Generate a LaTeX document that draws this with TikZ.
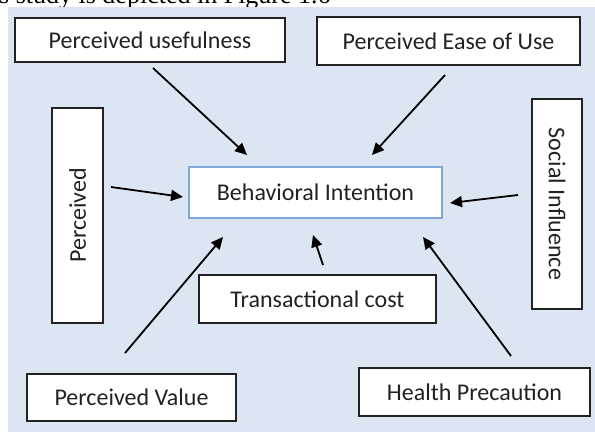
\documentclass[tikz,border=0pt]{standalone}
\usepackage{fontspec}
\setmainfont{Carlito}
\newfontfamily\captionfont{Liberation Serif}
\usetikzlibrary{arrows.meta}
\definecolor{panel}{HTML}{DCE6F2}
\definecolor{inkgray}{HTML}{222222}
\definecolor{focusblue}{HTML}{7FA7D9}
\begin{document}
\begin{tikzpicture}[x=1pt,y=-1pt,
  factor/.style={draw=inkgray,line width=1.8pt,fill=white,text=inkgray,
    inner sep=0pt,font=\fontsize{24}{28}\selectfont},
  target/.style={draw=focusblue,line width=1.3pt,fill=white,text=inkgray,
    inner sep=0pt,font=\fontsize{24}{28}\selectfont},
  link/.style={draw=black,line width=1.8pt,
    -{Triangle[length=12pt,width=11pt]}}]
\useasboundingbox (0,0) rectangle (595,432);
\clip (0,0) rectangle (595,432);

% caption line running above the panel
\node[anchor=base west,inner sep=0pt,font=\captionfont\fontsize{26}{30}\selectfont]
  (cap) at (-1,3.5) {s study is depicted in Figure 1.6};

% panel
\fill[panel] (8,7) rectangle (595,432);

% factor boxes
\node[factor,minimum width=270pt,minimum height=44pt] (pu) at (150,40) {Perceived usefulness};
\node[factor,minimum width=263pt,minimum height=48pt] (peou) at (448.5,41) {Perceived Ease of Use};
\node[factor,minimum width=51pt,minimum height=215pt] (per) at (77.5,215.5) {};
\node[rotate=90,text=inkgray,font=\fontsize{24}{28}\selectfont] (perlbl) at (per.center) {Perceived};
\node[factor,minimum width=50pt,minimum height=210pt] (soc) at (557,204) {};
\node[rotate=-90,text=inkgray,font=\fontsize{24}{28}\selectfont] (soclbl) at (soc.center) {Social Influence};
\node[target,minimum width=253pt,minimum height=51pt] (bi) at (315.5,192.5) {Behavioral Intention};
\node[factor,minimum width=237pt,minimum height=48pt] (tc) at (317.5,299) {Transactional cost};
\node[factor,minimum width=209pt,minimum height=47pt] (pv) at (131.5,397.5) {Perceived Value};
\node[factor,minimum width=231pt,minimum height=48pt] (hp) at (474.5,392) {Health Precaution};

% arrow end points (arrows stop short of the boxes)
\coordinate (pu-s) at (153,68);   \coordinate (pu-t) at (247,155);
\coordinate (peou-s) at (445,75); \coordinate (peou-t) at (372,155);
\coordinate (per-s) at (111,187); \coordinate (per-t) at (183,197);
\coordinate (soc-s) at (518,195); \coordinate (soc-t) at (450,203);
\coordinate (pv-s) at (125,353);  \coordinate (pv-t) at (223,237);
\coordinate (tc-s) at (323,265);  \coordinate (tc-t) at (313,235);
\coordinate (hp-s) at (511,356);  \coordinate (hp-t) at (423,237);

\draw[link] (pu-s) -- (pu-t);
\draw[link] (peou-s) -- (peou-t);
\draw[link] (per-s) -- (per-t);
\draw[link] (soc-s) -- (soc-t);
\draw[link] (pv-s) -- (pv-t);
\draw[link] (tc-s) -- (tc-t);
\draw[link] (hp-s) -- (hp-t);
\end{tikzpicture}
\end{document}
